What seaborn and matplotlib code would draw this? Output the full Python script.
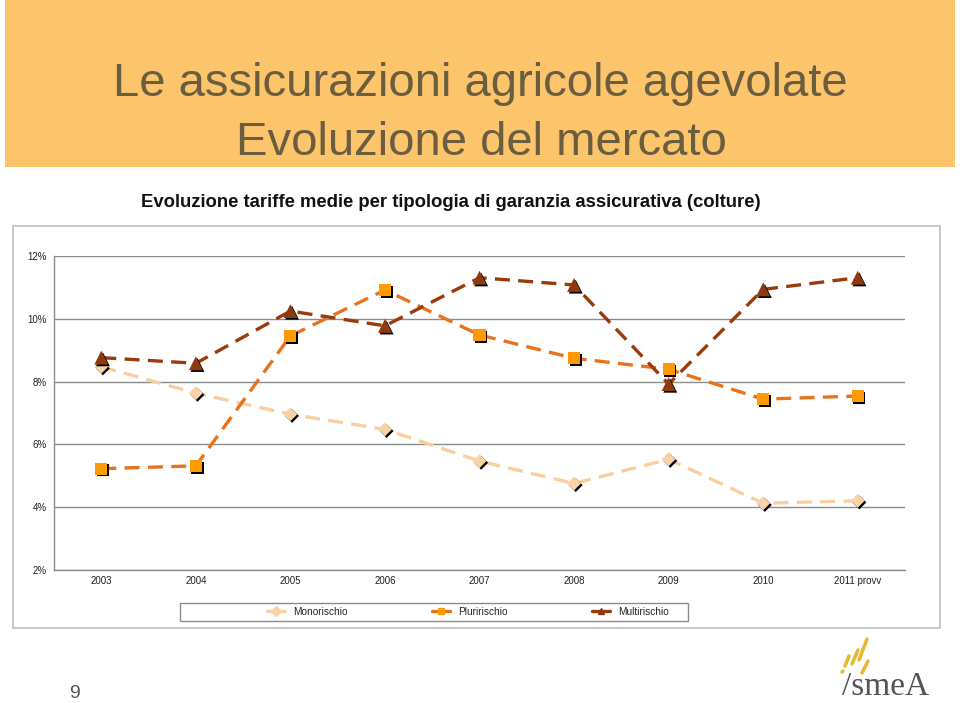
import matplotlib
matplotlib.use("Agg")
import matplotlib.pyplot as plt
import matplotlib.patheffects as pe
from matplotlib.patches import Rectangle
from matplotlib.lines import Line2D
import seaborn as sns
import pandas as pd

years = ["2003", "2004", "2005", "2006", "2007", "2008", "2009", "2010", "2011 provv"]
monorischio = [8.47, 7.63, 6.96, 6.48, 5.47, 4.76, 5.53, 4.13, 4.21]
pluririschio = [5.23, 5.32, 9.45, 10.91, 9.48, 8.74, 8.39, 7.44, 7.54]
multirischio = [8.76, 8.58, 10.24, 9.77, 11.30, 11.07, 7.92, 10.93, 11.30]
series_names = ["Monorischio", "Pluririschio", "Multirischio"]
yticks = [2, 4, 6, 8, 10, 12]

sns.set_theme(style="white")
plt.rcParams['font.family'] = ['Liberation Sans', 'DejaVu Sans']

fig = plt.figure(figsize=(9.6, 7.03), dpi=100)
W, H = 960, 703

def fx(x):
    return x / W

def fy(y):
    return 1 - y / H

# header band
fig.add_artist(Rectangle((fx(5), fy(167)), fx(950), 167 / H, transform=fig.transFigure,
                         facecolor="#FCC46B", edgecolor="none", zorder=0))
title_col = "#6B5D3F"
fig.text(fx(480), fy(96), "Le assicurazioni agricole agevolate", ha="center", va="baseline",
         fontsize=34, color=title_col)
fig.text(fx(481), fy(155), "Evoluzione del mercato", ha="center", va="baseline",
         fontsize=34, color=title_col)
fig.text(fx(451), fy(207), "Evoluzione tariffe medie per tipologia di garanzia assicurativa (colture)",
         ha="center", va="baseline", fontsize=13.3, fontweight="bold", color="#111111",
         family=['Liberation Sans Narrow', 'Liberation Sans', 'DejaVu Sans'])

# chart frame
fig.add_artist(Rectangle((fx(13), fy(628)), fx(927), 402 / H, transform=fig.transFigure,
                         facecolor="white", edgecolor="#BFBFBF", linewidth=1.2, zorder=0))

ax = fig.add_axes([fx(54), fy(570.3), fx(851), (570.3 - 255.7) / H])
ax.set_facecolor("none")

df = pd.DataFrame({"Anno": years * 3,
                   "Valore": monorischio + pluririschio + multirischio,
                   "Serie": [s for s in series_names for _ in years]})

line_cols = {"Monorischio": "#F9CFA0", "Pluririschio": "#E8731C", "Multirischio": "#9A3B0C"}
face_cols = {"Monorischio": "#F9D2A6", "Pluririschio": "#FF9A00", "Multirischio": "#8E3A10"}
markers = {"Monorischio": "D", "Pluririschio": "s", "Multirischio": "^"}
msizes = {"Monorischio": 50, "Pluririschio": 75, "Multirischio": 100}

for s in series_names:
    sub = df[df["Serie"] == s]
    sns.lineplot(data=sub, x="Anno", y="Valore", ax=ax, color=line_cols[s],
                 linewidth=2.4, sort=False, legend=False, zorder=3,
                 dashes=False).lines[-1].set_dashes((4.5, 2.5))
    sns.scatterplot(data=sub, x="Anno", y="Valore", ax=ax, marker=markers[s],
                    s=msizes[s], color=face_cols[s], edgecolor="none", legend=False,
                    zorder=4,
                    path_effects=[pe.SimplePatchShadow(offset=(1.2, -1.2), shadow_rgbFace="black", alpha=1.0),
                                  pe.Normal()])

ax.set_xlim(-0.5, len(years) - 0.5)
ax.set_ylim(2, 12)
ax.set_yticks(yticks)
ax.set_yticklabels([f"{v}%" for v in yticks])
ax.set_xlabel("")
ax.set_ylabel("")
ax.grid(axis="y", color="#8C8C8C", linewidth=1.0)
ax.set_axisbelow(True)
for sp in ["top", "right"]:
    ax.spines[sp].set_visible(False)
for sp in ["left", "bottom"]:
    ax.spines[sp].set_color("#8C8C8C")
    ax.spines[sp].set_linewidth(1.0)
ax.tick_params(axis="both", length=0, labelsize=7, colors="#222222")
ax.tick_params(axis="x", pad=4)
ax.tick_params(axis="y", pad=5)

# legend box and entries
fig.add_artist(Rectangle((fx(180), fy(621)), fx(508), 18 / H, transform=fig.transFigure,
                         facecolor="white", edgecolor="#8C8C8C", linewidth=1.0, zorder=1))
handles = [Line2D([0], [0], color=line_cols[s], linewidth=2.4, marker=markers[s],
                  markerfacecolor=face_cols[s], markeredgecolor=face_cols[s], markersize=5)
           for s in series_names]
leg = fig.legend(handles, series_names, loc="center", bbox_to_anchor=(fx(468), fy(612)),
                 ncol=3, fontsize=7.3, frameon=False, handlelength=1.8,
                 columnspacing=8.3, handletextpad=0.8)
leg.set_zorder(2)

# page number
fig.text(fx(75), fy(698), "9", ha="center", va="baseline", fontsize=14, color="#555555")

# logo
fig.text(fx(886), fy(695), "/smeA", ha="center", va="baseline", fontsize=24,
         color="#555555", family=['Liberation Serif', 'DejaVu Serif'])
for (x0, y0, x1, y1) in [(845, 666, 849, 656), (852, 664, 858, 650), (859, 660, 867, 639),
                         (862, 673, 868, 661), (842, 672, 843, 671)]:
    fig.add_artist(Line2D([fx(x0), fx(x1)], [fy(y0), fy(y1)], transform=fig.transFigure,
                          color="#E6B82E", linewidth=2.5, solid_capstyle="round"))

fig.savefig("out.png", dpi=100)
